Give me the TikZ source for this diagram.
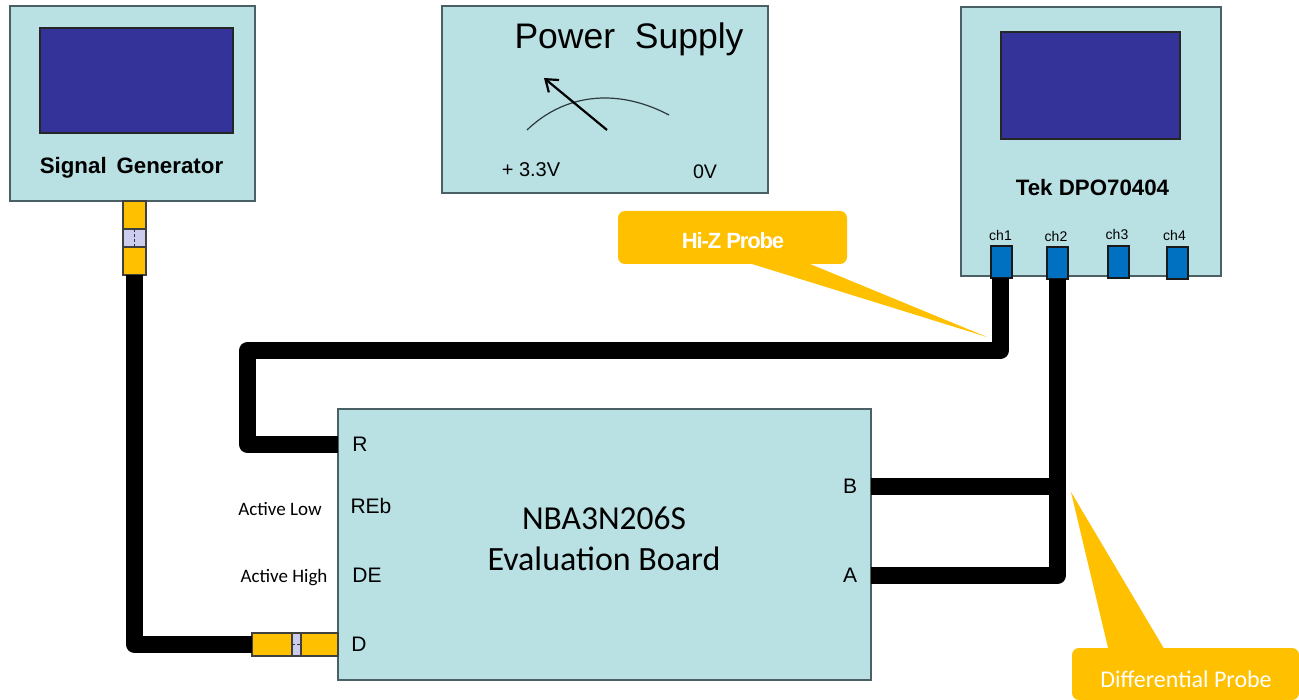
\documentclass[tikz,border=0pt]{standalone}
\usepackage{fontspec}
\setmainfont{Liberation Sans}
\newfontfamily\carlito{Carlito}
\usetikzlibrary{arrows.meta}
\newcommand{\fsz}[1]{\fontsize{#1}{#1}\selectfont}
\definecolor{boardblue}{HTML}{B9E0E3}
\definecolor{boardedge}{HTML}{4A6064}
\definecolor{screenblue}{HTML}{333399}
\definecolor{calloutyellow}{HTML}{FFC000}
\definecolor{portblue}{HTML}{0070C0}
\definecolor{midlilac}{HTML}{CCCCEE}
\tikzset{
	instr/.style={draw=boardedge,fill=boardblue,line width=1.5pt,inner sep=0pt,outer sep=0pt},
	screen/.style={draw=black!85,fill=screenblue,line width=1.2pt,inner sep=0pt,outer sep=0pt},
	port/.style={draw=black!90,fill=portblue,line width=1.5pt,inner sep=0pt,outer sep=0pt,minimum width=21pt,minimum height=32pt},
	conn/.style={draw=black!75,fill=calloutyellow,line width=1.5pt,inner sep=0pt,outer sep=0pt},
	connmid/.style={conn,fill=midlilac},
	cable/.style={black,line width=17pt,line join=round},
	callout/.style={fill=calloutyellow,rounded corners=7pt,inner sep=0pt,outer sep=0pt,text=white},
	chlabel/.style={inner sep=0pt,font=\fsz{14}},
	pin/.style={inner sep=0pt,font=\fsz{21}}
}
\begin{document}
\begin{tikzpicture}[x=1pt,y=-1pt]
	\useasboundingbox (0,0) rectangle (1299,700);

	% Instrumentos
	\node[instr,minimum width=245pt,minimum height=195pt] (siggen) at (132.5,103.5) {};
	\node[screen,minimum width=193pt,minimum height=105pt] (sigscreen) at (136.5,80.5) {};
	\node[inner sep=0pt,font=\bfseries\fsz{22.3}] (siglabel) at (131.5,168) {Signal\, Generator};

	\node[instr,minimum width=326pt,minimum height=187pt] (psu) at (605,99.5) {};
	\node[inner sep=0pt,font=\fsz{35.5}] (psulabel) at (629,39) {Power\; Supply};
	\node[inner sep=0pt,font=\fsz{20}] (plus) at (531,170) {+ 3.3V};
	\node[inner sep=0pt,font=\fsz{19.6}] (zero) at (705,172) {0V};
	\draw[boardedge!60!black,line width=1.2pt] (527,130) .. controls (552,106) and (580,98) .. (605,98) .. controls (628,98) and (650,105) .. (669,115);
	\draw[-{Straight Barb[length=11pt,width=16pt]},line width=2.2pt] (607,130) -- (544,78);

	\node[instr,minimum width=260pt,minimum height=269pt] (scope) at (1091,141.5) {};
	\node[screen,minimum width=179pt,minimum height=107pt] (scopescreen) at (1090.5,85.5) {};
	\node[inner sep=0pt,font=\bfseries\fsz{22.3}] (scopelabel) at (1092.5,188) {Tek DPO70404};

	% Canales
	\node[chlabel] (lblch1) at (1000.5,235) {ch1};
	\node[chlabel] (lblch2) at (1056,236) {ch2};
	\node[chlabel] (lblch3) at (1117,234) {ch3};
	\node[chlabel] (lblch4) at (1174.5,235) {ch4};
	\node[port] (ch1) at (1001.5,262) {};
	\node[port] (ch2) at (1057.5,263) {};
	\node[port] (ch3) at (1118.5,262) {};
	\node[port] (ch4) at (1177.5,263) {};

	% Placa
	\node[instr,minimum width=533pt,minimum height=271pt] (board) at (604.5,544.5) {};
	\node[inner sep=0pt,font=\carlito\fsz{33.5}] (boardname) at (604,518) {NBA3N206S};
	\node[inner sep=0pt,font=\carlito\fsz{34}] (boardtype) at (604,559) {Evaluation Board};
	\node[pin] (lblR) at (360,444.5) {R};
	\node[pin] (lblREb) at (371,506) {REb};
	\node[pin] (lblDE) at (367,575) {DE};
	\node[pin] (lblD) at (359,644.5) {D};
	\node[pin] (lblB) at (850,486) {B};
	\node[pin] (lblA) at (850,575.5) {A};
	\node[inner sep=0pt,font=\carlito\fsz{19}] (actlow) at (280,509) {Active Low};
	\node[inner sep=0pt,font=\carlito\fsz{19}] (acthigh) at (284,577.5) {Active High};

	% Conectores
	\node[conn,minimum width=23pt,minimum height=28pt] (sigtop) at (134.5,215) {};
	\node[connmid,minimum width=23pt,minimum height=18pt] (sigmid) at (134.5,238) {};
	\node[conn,minimum width=23pt,minimum height=28pt] (sigbot) at (134.5,261) {};
	\draw[densely dashed,black!80,line width=1pt] (sigmid.north) -- (sigmid.south);

	\node[conn,minimum width=40pt,minimum height=23pt] (dleft) at (272,644.5) {};
	\node[connmid,minimum width=9pt,minimum height=23pt] (dmid) at (296.5,644.5) {};
	\node[conn,minimum width=37pt,minimum height=23pt] (dright) at (319.5,644.5) {};
	\draw[densely dashed,black!80,line width=1pt] (dmid.west) -- (dmid.east);

	% Cables
	\coordinate (bendR) at (247.5,350.5);
	\draw[cable] (sigbot.south) |- (dleft.west);
	\draw[cable] ([xshift=-1pt]ch1.south) |- (bendR) |- (board.west |- lblR);
	\draw[cable] (ch2.south) |- (board.east |- lblA);
	\draw[cable] (board.east |- lblB) -- (ch2.south |- lblB);

	% Sondas
	\fill[calloutyellow] (752,260) -- (752,264) -- (987,337) -- (810,264) -- (810,260) -- cycle;
	\node[callout,minimum width=229pt,minimum height=53pt] (hiz) at (732.5,237.5) {};
	\node[inner sep=0pt,text=white,font=\bfseries\fsz{22}\addfontfeatures{LetterSpace=-5}] (hizlabel) at (733,241) {Hi-Z Probe};

	\fill[calloutyellow] (1109,652) -- (1071,492) -- (1166,652) -- cycle;
	\node[callout,minimum width=227pt,minimum height=52pt] (diff) at (1185.5,674) {};
	\node[inner sep=0pt,text=white,font=\carlito\fsz{24}] (difflabel) at (1186,679) {Differential Probe};
\end{tikzpicture}
\end{document}
